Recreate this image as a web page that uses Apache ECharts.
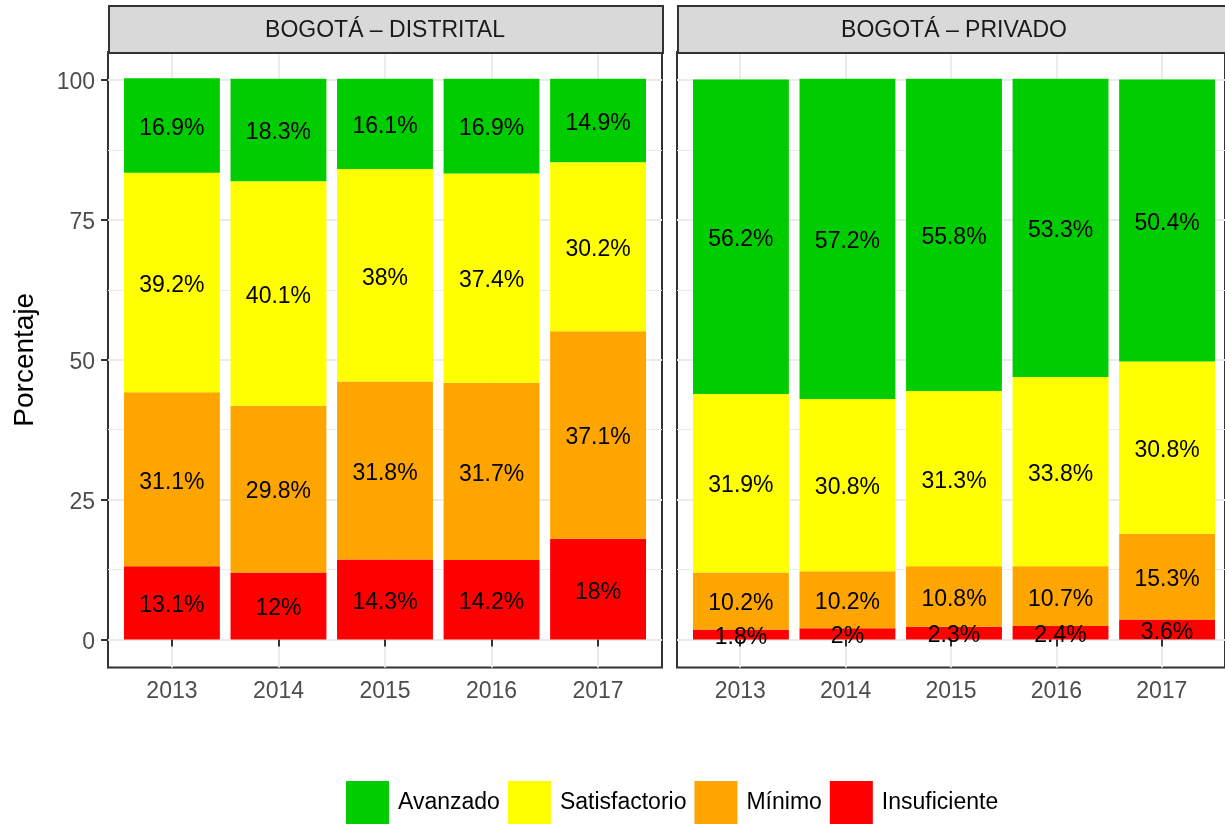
<!DOCTYPE html>
<html style="height: 100%">
<head>
    <meta charset="utf-8">
    <script src="https://cdn.jsdelivr.net/npm/echarts@6/dist/echarts.min.js"></script>
</head>
<body style="height: 100%; margin: 0; background: #fff">
    <div id="main" style="width: 1225px; height: 824px"></div>
    <script type="text/javascript">
        // data (bottom to top of each stack: Insuficiente, Mínimo, Satisfactorio, Avanzado)
        var years = ['2013', '2014', '2015', '2016', '2017'];
        var panels = ['BOGOTÁ – DISTRITAL', 'BOGOTÁ – PRIVADO'];
        var levels = ['Insuficiente', 'Mínimo', 'Satisfactorio', 'Avanzado'];
        var levelColors = ['#FF0000', '#FFA500', '#FFFF00', '#00CD00'];

        var distritalInsuficiente = [13.1, 12, 14.3, 14.2, 18];
        var distritalMinimo = [31.1, 29.8, 31.8, 31.7, 37.1];
        var distritalSatisfactorio = [39.2, 40.1, 38, 37.4, 30.2];
        var distritalAvanzado = [16.9, 18.3, 16.1, 16.9, 14.9];

        var privadoInsuficiente = [1.8, 2, 2.3, 2.4, 3.6];
        var privadoMinimo = [10.2, 10.2, 10.8, 10.7, 15.3];
        var privadoSatisfactorio = [31.9, 30.8, 31.3, 33.8, 30.8];
        var privadoAvanzado = [56.2, 57.2, 55.8, 53.3, 50.4];

        var yMajor = [0, 25, 50, 75, 100];
        var yMinor = [12.5, 37.5, 62.5, 87.5];

        var FONT = 'Liberation Sans';
        var panelLeft = [108, 677];
        var panelWidth = 554;
        var panelTop = 52;
        var panelHeight = 615.5;
        var unit = panelWidth / 5.2;

        var chart = echarts.init(document.getElementById('main'));

        var grids = [], xAxes = [], yAxes = [], series = [], graphics = [];

        // frame grids (border, gridlines, ticks, labels)
        panelLeft.forEach(function (left, p) {
            grids.push({
                left: left, top: panelTop, width: panelWidth, height: panelHeight,
                show: true, borderColor: '#333333', borderWidth: 2, backgroundColor: 'transparent'
            });
        });
        // bar grids (category bands inside the expanded panel)
        panelLeft.forEach(function (left, p) {
            grids.push({
                left: left + unit * 0.1, top: panelTop, width: unit * 5, height: panelHeight
            });
        });

        [0, 1].forEach(function (p) {
            xAxes.push({
                type: 'value', gridIndex: p, min: 0.4, max: 5.6,
                axisLine: { show: false },
                axisTick: { show: true, customValues: [1, 2, 3, 4, 5], length: 7,
                    lineStyle: { color: '#333333', width: 2 } },
                axisLabel: { customValues: [1, 2, 3, 4, 5], margin: 13,
                    formatter: function (v) { return years[Math.round(v) - 1]; },
                    color: '#4D4D4D', fontSize: 23, fontFamily: FONT },
                splitLine: { show: true, lineStyle: { color: '#EBEBEB', width: 2 } }
            });
        });
        [2, 3].forEach(function (g) {
            xAxes.push({ type: 'category', gridIndex: g, data: years, show: false });
        });

        [0, 1].forEach(function (p) {
            yAxes.push({
                type: 'value', gridIndex: p, min: -5, max: 105,
                name: p === 0 ? 'Porcentaje' : '',
                nameLocation: 'middle', nameGap: 69,
                nameTextStyle: { color: '#000000', fontSize: 28, fontFamily: FONT },
                axisLine: { show: false },
                axisTick: { show: p === 0, customValues: yMajor, length: 7,
                    lineStyle: { color: '#333333', width: 2 } },
                axisLabel: { show: p === 0, customValues: yMajor, margin: 13,
                    verticalAlign: 'top', lineHeight: 6,
                    color: '#4D4D4D', fontSize: 23, fontFamily: FONT },
                splitLine: { show: true, lineStyle: { color: '#EBEBEB', width: 2 } }
            });
            yAxes.push({
                type: 'value', gridIndex: p, min: -5, max: 105, position: 'left',
                axisLine: { show: false },
                axisTick: { show: false, customValues: yMinor },
                axisLabel: { show: false, customValues: yMinor },
                splitLine: { show: true, lineStyle: { color: '#EBEBEB', width: 1 } }
            });
        });
        [2, 3].forEach(function (g) {
            yAxes.push({ type: 'value', gridIndex: g, min: -5, max: 105, show: false,
                splitLine: { show: false } });
        });

        var panelData = [
            [distritalInsuficiente, distritalMinimo, distritalSatisfactorio, distritalAvanzado],
            [privadoInsuficiente, privadoMinimo, privadoSatisfactorio, privadoAvanzado]
        ];

        panelData.forEach(function (stackData, p) {
            stackData.forEach(function (vals, k) {
                series.push({
                    name: levels[k],
                    type: 'bar',
                    stack: 'panel' + p,
                    xAxisIndex: 2 + p,
                    yAxisIndex: 4 + p,
                    barCategoryGap: '10%',
                    itemStyle: { color: levelColors[k] },
                    label: {
                        show: true, position: 'inside', offset: [0, 3],
                        formatter: function (d) { return d.value + '%'; },
                        color: '#000000', fontSize: 23, fontFamily: FONT
                    },
                    data: vals
                });
            });
        });

        // facet strips
        panelLeft.forEach(function (left, p) {
            graphics.push({
                type: 'rect', left: left, top: 5, z: 10,
                shape: { width: panelWidth, height: 47 },
                style: { fill: '#D9D9D9', stroke: '#333333', lineWidth: 2 }
            });
            graphics.push({
                type: 'text', x: left + panelWidth / 2, y: 31, z: 11,
                style: { text: panels[p], fill: '#1A1A1A', font: '23px "' + FONT + '"',
                    textAlign: 'center', textVerticalAlign: 'middle' }
            });
        });

        var option = {
            backgroundColor: '#ffffff',
            animation: false,
            grid: grids,
            xAxis: xAxes,
            yAxis: yAxes,
            legend: {
                data: ['Avanzado', 'Satisfactorio', 'Mínimo', 'Insuficiente'],
                left: 346, top: 781, padding: 0,
                itemWidth: 43, itemHeight: 43, itemGap: 8,
                icon: 'rect',
                textStyle: { color: '#000000', fontSize: 23, fontFamily: FONT, padding: [0, 0, 0, 4] }
            },
            graphic: graphics,
            series: series
        };
        chart.setOption(option);
    </script>
</body>
</html>
